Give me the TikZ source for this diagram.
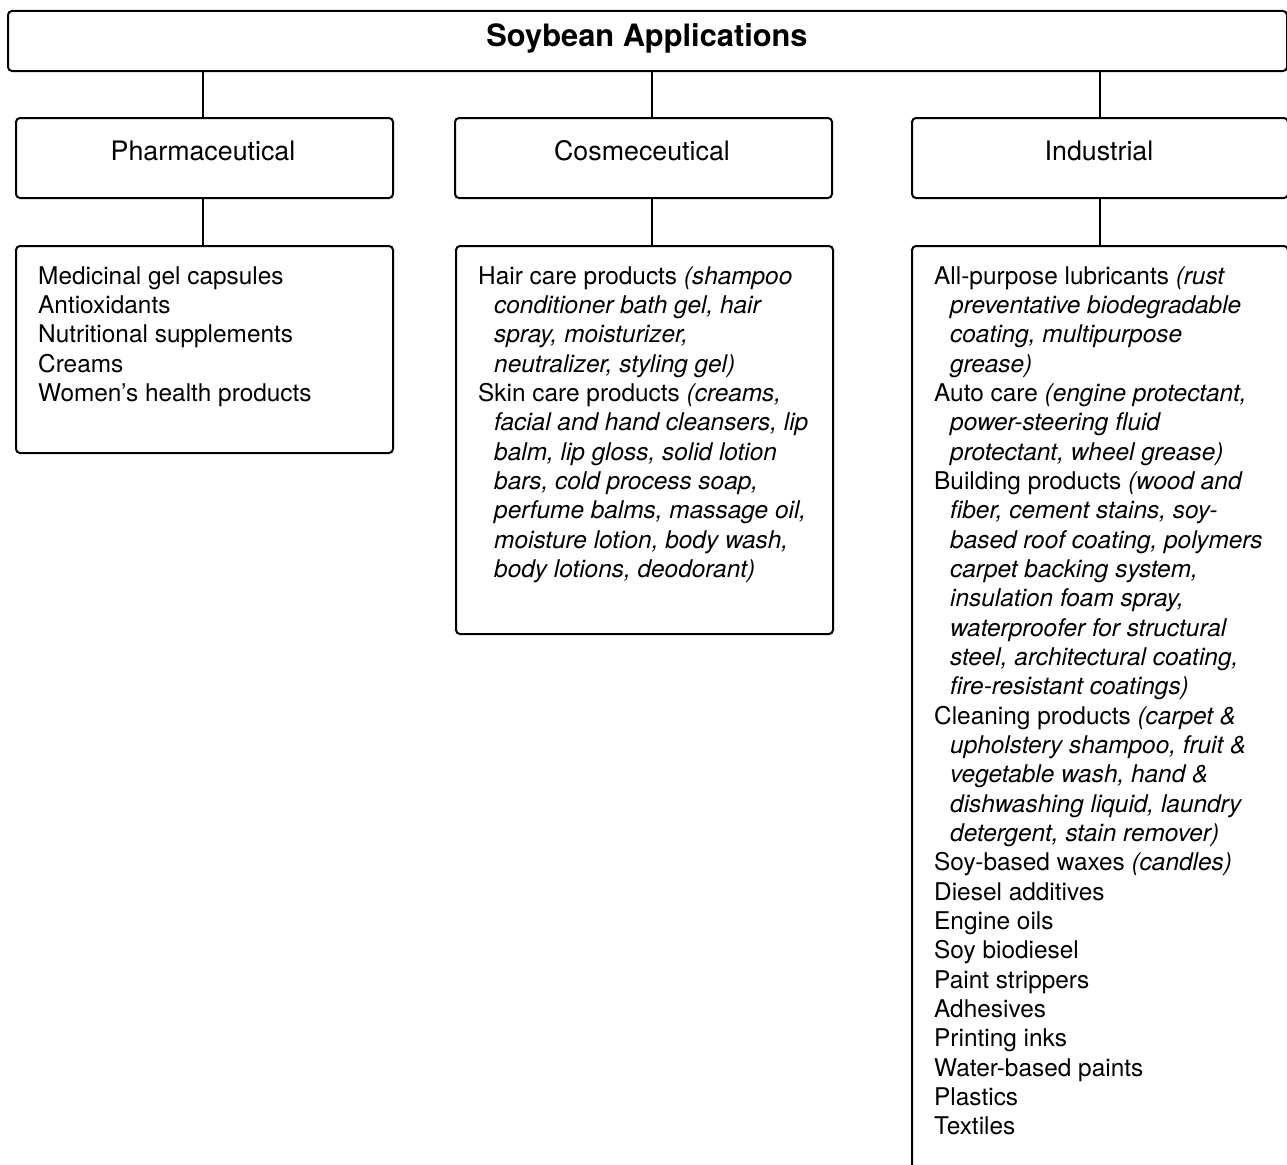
\documentclass[tikz,border=0pt]{standalone}
\usepackage{fontspec}
\setmainfont{TeX Gyre Heros}
\begin{document}
\begin{tikzpicture}[x=1pt,y=-1pt,
  box/.style={draw, line width=2pt, rounded corners=4pt, inner sep=0pt, anchor=north west},
  link/.style={line width=2pt},
  lbl/.style={font=\fontsize{26.8}{31}\selectfont},
  listtext/.style={anchor=base west, inner sep=0pt, font=\fontsize{24.4}{29.34}\selectfont}]
\useasboundingbox (0,0) rectangle (1287,1164);
% title
\node[box, minimum width=1279pt, minimum height=60pt] (title) at (7,10) {};
\node[font=\fontsize{30.8}{36}\selectfont\bfseries] (titletxt) at (647,38) {Soybean Applications};
% level 2
\node[box, minimum width=377pt, minimum height=80pt] (pharm) at (15,117) {};
\node[box, minimum width=377pt, minimum height=80pt] (cosm) at (454,117) {};
\node[box, minimum width=376pt, minimum height=80pt] (ind) at (911,117) {};
\node[lbl] (pharmtxt) at (203,151) {Pharmaceutical};
\node[lbl] (cosmtxt) at (642,151) {Cosmeceutical};
\node[lbl] (indtxt) at (1099,151) {Industrial};
% level 3
\node[box, minimum width=377pt, minimum height=207pt] (pharml) at (15,245) {};
\node[box, minimum width=377pt, minimum height=388pt] (cosml) at (455,245) {};
\node[box, minimum width=376pt, minimum height=980pt] (indl) at (911,245) {};
% connectors
\draw[link] (title.south -| pharm.north) ++(-2,0) coordinate (t1) -- (t1 |- pharm.north);
\draw[link] (title.south -| cosm.north) ++(8,0) coordinate (t2) -- (t2 |- cosm.north);
\draw[link] (title.south -| ind.north) coordinate (t3) -- (t3 |- ind.north);
\draw[link] (pharm.south) ++(-2,0) coordinate (p1) -- (p1 |- pharml.north);
\draw[link] (cosm.south) ++(8,0) coordinate (c1) -- (c1 |- cosml.north);
\draw[link] (ind.south) coordinate (i1) -- (i1 |- indl.north);
% texts
\node[listtext] (pharmlist) at (38,284) {\parbox[t]{360pt}{\raggedright
Medicinal gel capsules\par
Antioxidants\par
Nutritional supplements\par
Creams\par
Women’s health products}};
\node[listtext] (cosmlist) at (478,284) {\parbox[t]{400pt}{\raggedright\hangindent=16pt\hangafter=1
Hair care products \textit{(shampoo\newline
conditioner bath gel, hair\newline
spray, moisturizer,\newline
neutralizer, styling gel)}\par
\hangindent=16pt\hangafter=1
Skin care products \textit{(creams,\newline
facial and hand cleansers, lip\newline
balm, lip gloss, solid lotion\newline
bars, cold process soap,\newline
perfume balms, massage oil,\newline
moisture lotion, body wash,\newline
body lotions, deodorant)}}};
\node[listtext] (indlist) at (934,284) {\parbox[t]{400pt}{\raggedright
\hangindent=16pt\hangafter=1
All-purpose lubricants \textit{(rust\newline
preventative biodegradable\newline
coating, multipurpose\newline
grease)}\par
\hangindent=16pt\hangafter=1
Auto care \textit{(engine protectant,\newline
power-steering fluid\newline
protectant, wheel grease)}\par
\hangindent=16pt\hangafter=1
Building products \textit{(wood and\newline
fiber, cement stains, soy-\newline
based roof coating, polymers\newline
carpet backing system,\newline
insulation foam spray,\newline
waterproofer for structural\newline
steel, architectural coating,\newline
fire-resistant coatings)}\par
\hangindent=16pt\hangafter=1
Cleaning products \textit{(carpet \&\newline
upholstery shampoo, fruit \&\newline
vegetable wash, hand \&\newline
dishwashing liquid, laundry\newline
detergent, stain remover)}\par
Soy-based waxes \textit{(candles)}\par
Diesel additives\par
Engine oils\par
Soy biodiesel\par
Paint strippers\par
Adhesives\par
Printing inks\par
Water-based paints\par
Plastics\par
Textiles}};
\end{tikzpicture}
\end{document}
